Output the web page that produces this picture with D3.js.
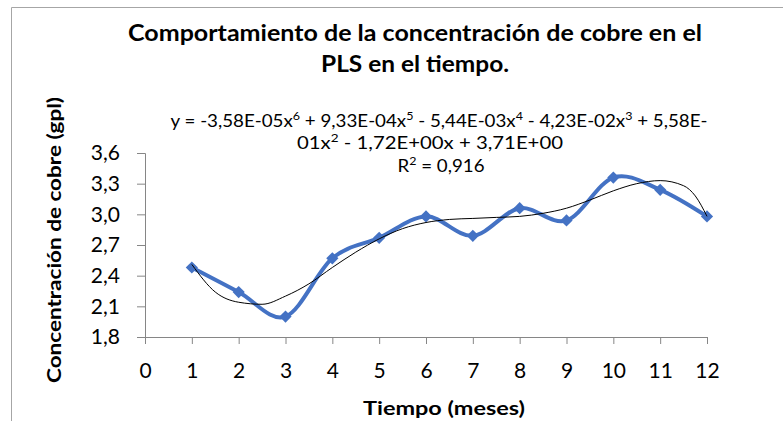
<!DOCTYPE html>
<html>
<head>
<meta charset="utf-8">
<script src="https://cdn.jsdelivr.net/npm/d3@7"></script>
<style>
  body { margin: 0; background: #fff; }
  svg { display: block; font-family: Lato, 'Open Sans', sans-serif; }
</style>
</head>
<body>
<div id="chart"></div>
<script>
// datos
const meses = [1, 2, 3, 4, 5, 6, 7, 8, 9, 10, 11, 12];
const cobre = [2.48, 2.24, 2.00, 2.57, 2.77, 2.98, 2.79, 3.06, 2.94, 3.36, 3.24, 2.98];

// linea de tendencia (polinomica)
const tendX = [1, 1.5, 2, 2.5, 3, 3.5, 4, 4.5, 5, 5.5, 6, 6.5, 7, 7.5, 8, 8.5, 9, 9.5, 10, 10.5, 11, 11.5, 11.75, 12];
const tendY = [2.51, 2.24, 2.14, 2.12, 2.20, 2.32, 2.48, 2.63, 2.76, 2.86, 2.92, 2.95, 2.96, 2.97, 2.98, 3.01, 3.06, 3.14, 3.23, 3.30, 3.33, 3.28, 3.18, 2.98];

const xTicks = [0, 1, 2, 3, 4, 5, 6, 7, 8, 9, 10, 11, 12];
const yTicks = [1.8, 2.1, 2.4, 2.7, 3.0, 3.3, 3.6];

const titulo = ['Comportamiento de la concentración de cobre en el', 'PLS en el tiempo.'];
const ejeX = 'Tiempo (meses)';
const ejeY = 'Concentración de cobre (gpl)';

const width = 783, height = 421;
const plot = {left: 145, right: 707, top: 153, bottom: 337};

const svg = d3.select('#chart')
    .append('svg')
    .attr('width', width)
    .attr('height', height);

// borde del area del grafico (recortado)
svg.append('path')
    .attr('d', `M11.5,${height} V7.5 H${width}`)
    .attr('fill', 'none')
    .attr('stroke', '#a6a6a6')
    .attr('stroke-width', 1);

const x = d3.scaleLinear().domain([0, 12]).range([plot.left, plot.right]);
const y = d3.scaleLinear().domain([1.8, 3.6]).range([plot.bottom, plot.top]);

const fmt = d => d3.format('.1f')(d).replace('.', ',');

// Eje X
const gx = svg.append('g')
    .attr('transform', `translate(0, ${plot.bottom})`)
    .call(d3.axisBottom(x).tickValues(xTicks).tickSize(7).tickPadding(19).tickFormat(d => d));
gx.select('.domain').attr('stroke', '#868686');
gx.selectAll('.tick line').attr('stroke', '#868686');
gx.selectAll('.tick text')
    .attr('fill', '#000')
    .style('font-size', '21px')
    .style('font-family', 'Lato, sans-serif');

// Eje Y
const gy = svg.append('g')
    .attr('transform', `translate(${plot.left}, 0)`)
    .call(d3.axisLeft(y).tickValues(yTicks).tickSize(8).tickPadding(17).tickFormat(fmt));
gy.select('.domain').attr('stroke', '#868686');
gy.selectAll('.tick line').attr('stroke', '#868686');
gy.selectAll('.tick text')
    .attr('fill', '#000')
    .style('font-size', '21px')
    .style('font-family', 'Lato, sans-serif');

// Titulo (fuente estrecha tipo Calibri -> se ajusta el ancho)
const anchoTitulo = [574, 188];
titulo.forEach((t, i) => {
    svg.append('text')
        .attr('x', 415)
        .attr('y', 41 + i * 31)
        .attr('text-anchor', 'middle')
        .attr('textLength', anchoTitulo[i])
        .attr('lengthAdjust', 'spacingAndGlyphs')
        .style('font-size', '22px')
        .style('font-weight', 'bold')
        .text(t);
});

// Titulos de ejes
svg.append('text')
    .attr('x', 444)
    .attr('y', 415)
    .attr('text-anchor', 'middle')
    .attr('textLength', 162)
    .attr('lengthAdjust', 'spacingAndGlyphs')
    .style('font-size', '19px')
    .style('font-weight', 'bold')
    .text(ejeX);

svg.append('text')
    .attr('transform', 'translate(61, 240) rotate(-90)')
    .attr('text-anchor', 'middle')
    .attr('textLength', 286)
    .attr('lengthAdjust', 'spacingAndGlyphs')
    .style('font-size', '19px')
    .style('font-weight', 'bold')
    .text(ejeY);

// Serie suavizada
const linea = d3.line()
    .x((d, i) => x(meses[i]))
    .y(d => y(d))
    .curve(d3.curveCatmullRom.alpha(0));

svg.append('path')
    .datum(cobre)
    .attr('d', linea)
    .attr('fill', 'none')
    .attr('stroke', '#4472C4')
    .attr('stroke-width', 4)
    .attr('stroke-linejoin', 'round');

svg.selectAll('.marker')
    .data(cobre)
    .enter()
    .append('path')
    .attr('class', 'marker')
    .attr('transform', (d, i) => `translate(${x(meses[i])}, ${y(d)})`)
    .attr('d', d3.symbol(d3.symbolDiamond2, 95))
    .attr('fill', '#4472C4');

// Tendencia
const lineaTend = d3.line()
    .x((d, i) => x(tendX[i]))
    .y(d => y(d))
    .curve(d3.curveMonotoneX);

svg.append('path')
    .datum(tendY)
    .attr('d', lineaTend)
    .attr('fill', 'none')
    .attr('stroke', '#000')
    .attr('stroke-width', 1);

// Ecuacion de la tendencia, una linea por <text>
function lineaEq(cx, cy, ancho) {
    return svg.append('text')
        .attr('x', cx)
        .attr('y', cy)
        .attr('text-anchor', 'middle')
        .attr('textLength', ancho)
        .attr('lengthAdjust', 'spacingAndGlyphs')
        .style('font-size', '18px');
}
const sup = (el, s) => el.append('tspan').attr('dy', -7).style('font-size', '12px').text(s);
const down = (el, s) => el.append('tspan').attr('dy', 7).text(s);

const l1 = lineaEq(439, 127, 537);
l1.append('tspan').text('y = -3,58E-05x');
sup(l1, '6');
down(l1, ' + 9,33E-04x');
sup(l1, '5');
down(l1, ' - 5,44E-03x');
sup(l1, '4');
down(l1, ' - 4,23E-02x');
sup(l1, '3');
down(l1, ' + 5,58E-');

const l2 = lineaEq(430, 149, 266);
l2.append('tspan').text('01x');
sup(l2, '2');
down(l2, ' - 1,72E+00x + 3,71E+00');

const l3 = lineaEq(441, 172, 87);
l3.append('tspan').text('R');
sup(l3, '2');
down(l3, ' = 0,916');
</script>
</body>
</html>
